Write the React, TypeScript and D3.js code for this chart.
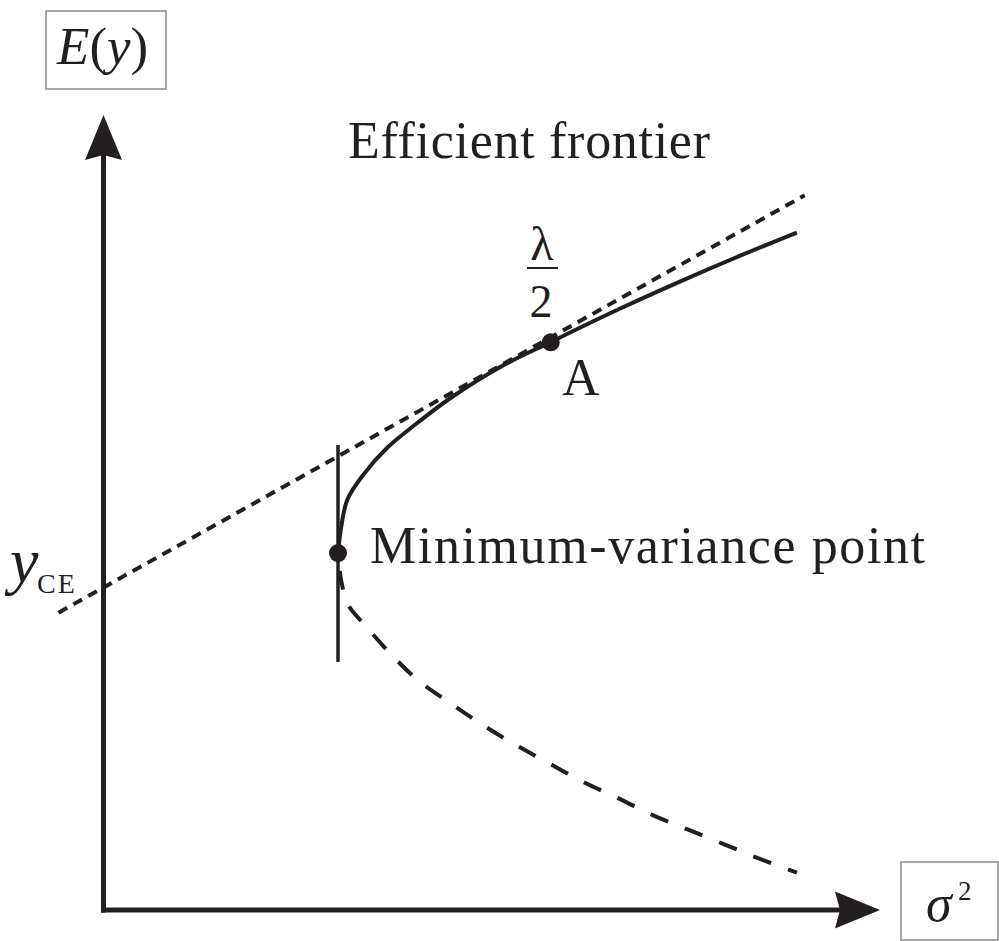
import React from "react";
import * as d3 from "d3";

// frontier, [variance, expected return]
const upperFrontier: [number, number][] = [
  [3.02, 4.49], [3.06, 4.81], [3.14, 5.16], [3.35, 5.48], [3.66, 5.82],
  [4.02, 6.11], [4.47, 6.44], [5.11, 6.83], [5.75, 7.14], [6.62, 7.55],
  [7.46, 7.92], [8.2, 8.23], [8.93, 8.52],
];
const lowerFrontier: [number, number][] = [
  [3.02, 4.49], [3.06, 4.15], [3.15, 3.84], [3.37, 3.58], [3.69, 3.23],
  [4.05, 2.89], [4.47, 2.6], [4.88, 2.33], [5.3, 2.08], [5.73, 1.85],
  [6.18, 1.61], [6.62, 1.41], [7.08, 1.19], [7.53, 1.01], [8.01, 0.82],
  [8.46, 0.64], [8.93, 0.47],
];
const tangentLine: [number, number][] = [[-0.58, 3.74], [9.03, 8.99]];
const minVarLine: [number, number][] = [[3.02, 5.85], [3.02, 3.12]];
const minVarPoint: [number, number] = [3.02, 4.49];
const pointA: [number, number] = [5.76, 7.14];

const labels = {
  title: "Efficient frontier",
  minVar: "Minimum-variance point",
  pointA: "A",
};

const W = 999;
const H = 941;
const ink = "#231f20";
const font = "'Liberation Serif', 'Times New Roman', serif";

export default function App() {
  const x = d3.scaleLinear().domain([0, 10]).range([103.5, 880]);
  const y = d3.scaleLinear().domain([0, 10]).range([910, 115]);

  const smooth = d3
    .line<[number, number]>()
    .x((d) => x(d[0]))
    .y((d) => y(d[1]))
    .curve(d3.curveCatmullRom.alpha(0.5));
  const straight = d3
    .line<[number, number]>()
    .x((d) => x(d[0]))
    .y((d) => y(d[1]));

  const x0 = x(0);
  const y0 = y(0);
  const xTip = x(10);
  const yTip = y(10);

  return (
    <div style={{ position: "absolute", top: 0, left: 0 }}>
      <svg width={W} height={H} style={{ display: "block", background: "#fff" }} fontFamily={font}>
        {/* axes */}
        <line x1={x0} y1={y0 + 2.5} x2={x0} y2={yTip + 30} stroke={ink} strokeWidth={5} />
        <line x1={x0 - 2.5} y1={y0} x2={xTip - 30} y2={y0} stroke={ink} strokeWidth={5} />
        <path
          d={`M${x0},${yTip} L${x0 + 18.5},${yTip + 45} L${x0},${yTip + 40} L${x0 - 18.5},${yTip + 45} Z`}
          fill={ink}
        />
        <path
          d={`M${xTip},${y0} L${xTip - 45},${y0 + 18.5} L${xTip - 40},${y0} L${xTip - 45},${y0 - 18.5} Z`}
          fill={ink}
        />

        {/* axis label boxes */}
        <rect x={46} y={11} width={120} height={78} fill="none" stroke="#8a8a8a" strokeWidth={1.5} />
        <text x={57} y={64} fontSize={53} fill={ink}>
          <tspan fontStyle="italic">E</tspan>
          <tspan>(</tspan>
          <tspan fontStyle="italic">y</tspan>
          <tspan>)</tspan>
        </text>
        <rect x={901} y={862} width={97} height={78} fill="none" stroke="#8a8a8a" strokeWidth={1.5} />
        <text x={926} y={921} fontSize={52} fill={ink} fontStyle="italic">σ</text>
        <text x={958} y={900} fontSize={27} fill={ink}>2</text>

        {/* tangent line */}
        <path
          d={straight(tangentLine) || ""}
          fill="none"
          stroke={ink}
          strokeWidth={4}
          strokeDasharray="10 7"
        />

        {/* minimum variance vertical */}
        <path d={straight(minVarLine) || ""} fill="none" stroke={ink} strokeWidth={3.5} />

        {/* frontier */}
        <path d={smooth(upperFrontier) || ""} fill="none" stroke={ink} strokeWidth={4} />
        <path
          d={smooth(lowerFrontier) || ""}
          fill="none"
          stroke={ink}
          strokeWidth={4}
          strokeDasharray="19 18"
          strokeDashoffset={-18}
        />

        <circle cx={x(minVarPoint[0])} cy={y(minVarPoint[1])} r={9} fill={ink} />
        <circle cx={x(pointA[0])} cy={y(pointA[1])} r={9} fill={ink} />

        {/* text */}
        <text x={348} y={158} fontSize={52} fill={ink} textLength={362} lengthAdjust="spacing">
          {labels.title}
        </text>
        <text x={370} y={563} fontSize={52} fill={ink} textLength={555} lengthAdjust="spacing">
          {labels.minVar}
        </text>
        <text x={562} y={395} fontSize={52} fill={ink}>
          {labels.pointA}
        </text>

        <text x={542} y={260} fontSize={48} fill={ink} textAnchor="middle">λ</text>
        <line x1={527} x2={558} y1={268} y2={268} stroke={ink} strokeWidth={2} />
        <text x={541} y={317} fontSize={46} fill={ink} textAnchor="middle">2</text>

        <text x={10} y={582} fontSize={64} fill={ink} fontStyle="italic">y</text>
        <text x={37} y={593} fontSize={28} fill={ink} letterSpacing={2}>CE</text>
      </svg>
    </div>
  );
}
